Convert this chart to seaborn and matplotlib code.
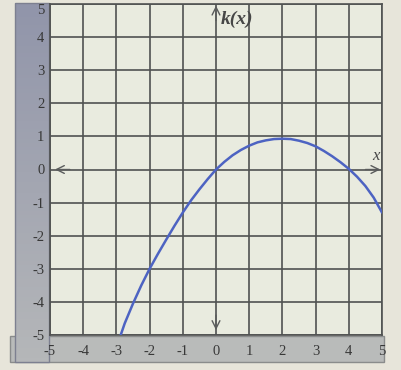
import numpy as np
import matplotlib
matplotlib.use("Agg")
import matplotlib.pyplot as plt
import seaborn as sns
import pandas as pd
from matplotlib.patches import Rectangle

# data
x_vals = [-2.87, -2.75, -2.5, -2.25, -2.0, -1.75, -1.5, -1.25, -1.0, -0.75, -0.5, -0.25,
          0.0, 0.25, 0.5, 0.75, 1.0, 1.25, 1.5, 1.75, 2.0, 2.25, 2.5, 2.75,
          3.0, 3.25, 3.5, 3.75, 4.0, 4.25, 4.5, 4.75, 5.0]
y_vals = [-5.0, -4.65, -4.05, -3.5, -3.0, -2.55, -2.12, -1.7, -1.3, -0.93, -0.6, -0.29,
          0.0, 0.23, 0.43, 0.59, 0.72, 0.82, 0.88, 0.92, 0.93, 0.92, 0.87, 0.8,
          0.7, 0.56, 0.4, 0.22, 0.02, -0.22, -0.5, -0.85, -1.3]
x_ticks = [-5, -4, -3, -2, -1, 0, 1, 2, 3, 4, 5]
y_ticks = [-5, -4, -3, -2, -1, 0, 1, 2, 3, 4, 5]
y_label = "k(x)"
x_label = "x"

sns.set_theme(style="white")
plt.rcParams['font.family'] = ['Liberation Serif', 'DejaVu Serif']

W, H = 401, 370
fig = plt.figure(figsize=(W / 100, H / 100), dpi=100)
fig.patch.set_facecolor("#e7e5da")

def fx(px):
    return px / W

def fy(py):
    return 1 - py / H

# background panels (bands)
bg = fig.add_axes([0, 0, 1, 1])
bg.set_xlim(0, W)
bg.set_ylim(H, 0)
bg.axis("off")
bg.add_patch(Rectangle((10, 336), 374, 26, facecolor="#b9bbba", edgecolor="#8a8c8c", lw=1))
grad = np.linspace(0, 1, 100).reshape(-1, 1)
cmap = matplotlib.colors.LinearSegmentedColormap.from_list("g", ["#9195aa", "#b5b7b9"])
bg.imshow(grad, extent=(15, 49, 362, 3), cmap=cmap, aspect="auto", zorder=1)
bg.add_patch(Rectangle((15, 3), 34, 359, facecolor="none", edgecolor="#7d8090", lw=1, zorder=2))

left, right, top, bottom = 50, 382, 4, 335
ax = fig.add_axes([fx(left), fy(bottom), fx(right - left), fy(top) - fy(bottom)])
ax.set_facecolor("#e9ebdf")

df = pd.DataFrame({"x": x_vals, "y": y_vals})
sns.lineplot(data=df, x="x", y="y", ax=ax, color="#4d63c2", lw=1.8, sort=True, zorder=5)

ax.set_xlim(x_ticks[0], x_ticks[-1])
ax.set_ylim(y_ticks[0], y_ticks[-1])
ax.set_xticks(x_ticks)
ax.set_yticks(y_ticks)
ax.set_xticklabels([str(t) for t in x_ticks])
ax.set_yticklabels([str(t) for t in y_ticks])
ax.grid(True, color="#505252", lw=1.2)
ax.tick_params(axis="both", length=0, labelsize=10.5, colors="#383838", pad=4)
ax.tick_params(axis="x", pad=7)
for lbl in ax.get_yticklabels():
    lbl.set_verticalalignment("top" if lbl.get_text() == "5" else "center_baseline")
for s in ax.spines.values():
    s.set_color("#505252")
    s.set_linewidth(1.2)
ax.set_xlabel("")
ax.set_ylabel("")

arrow_kw = dict(arrowstyle="->", color="#5a5c5c", lw=1.0, mutation_scale=14, shrinkA=0, shrinkB=0)
ax.annotate("", xy=(-4.85, 0), xytext=(-4.4, 0), arrowprops=arrow_kw, zorder=6)
ax.annotate("", xy=(4.95, 0), xytext=(4.5, 0), arrowprops=arrow_kw, zorder=6)
ax.annotate("", xy=(0, 4.95), xytext=(0, 4.5), arrowprops=arrow_kw, zorder=6)
ax.annotate("", xy=(0, -4.85), xytext=(0, -4.4), arrowprops=arrow_kw, zorder=6)
ax.text(0.15, 4.4, y_label, fontsize=14, fontstyle="italic", fontweight="bold", color="#474747")
ax.text(4.7, 0.3, x_label, fontsize=12, fontstyle="italic", color="#474747")

fig.savefig("out.png", dpi=100, facecolor=fig.get_facecolor())
